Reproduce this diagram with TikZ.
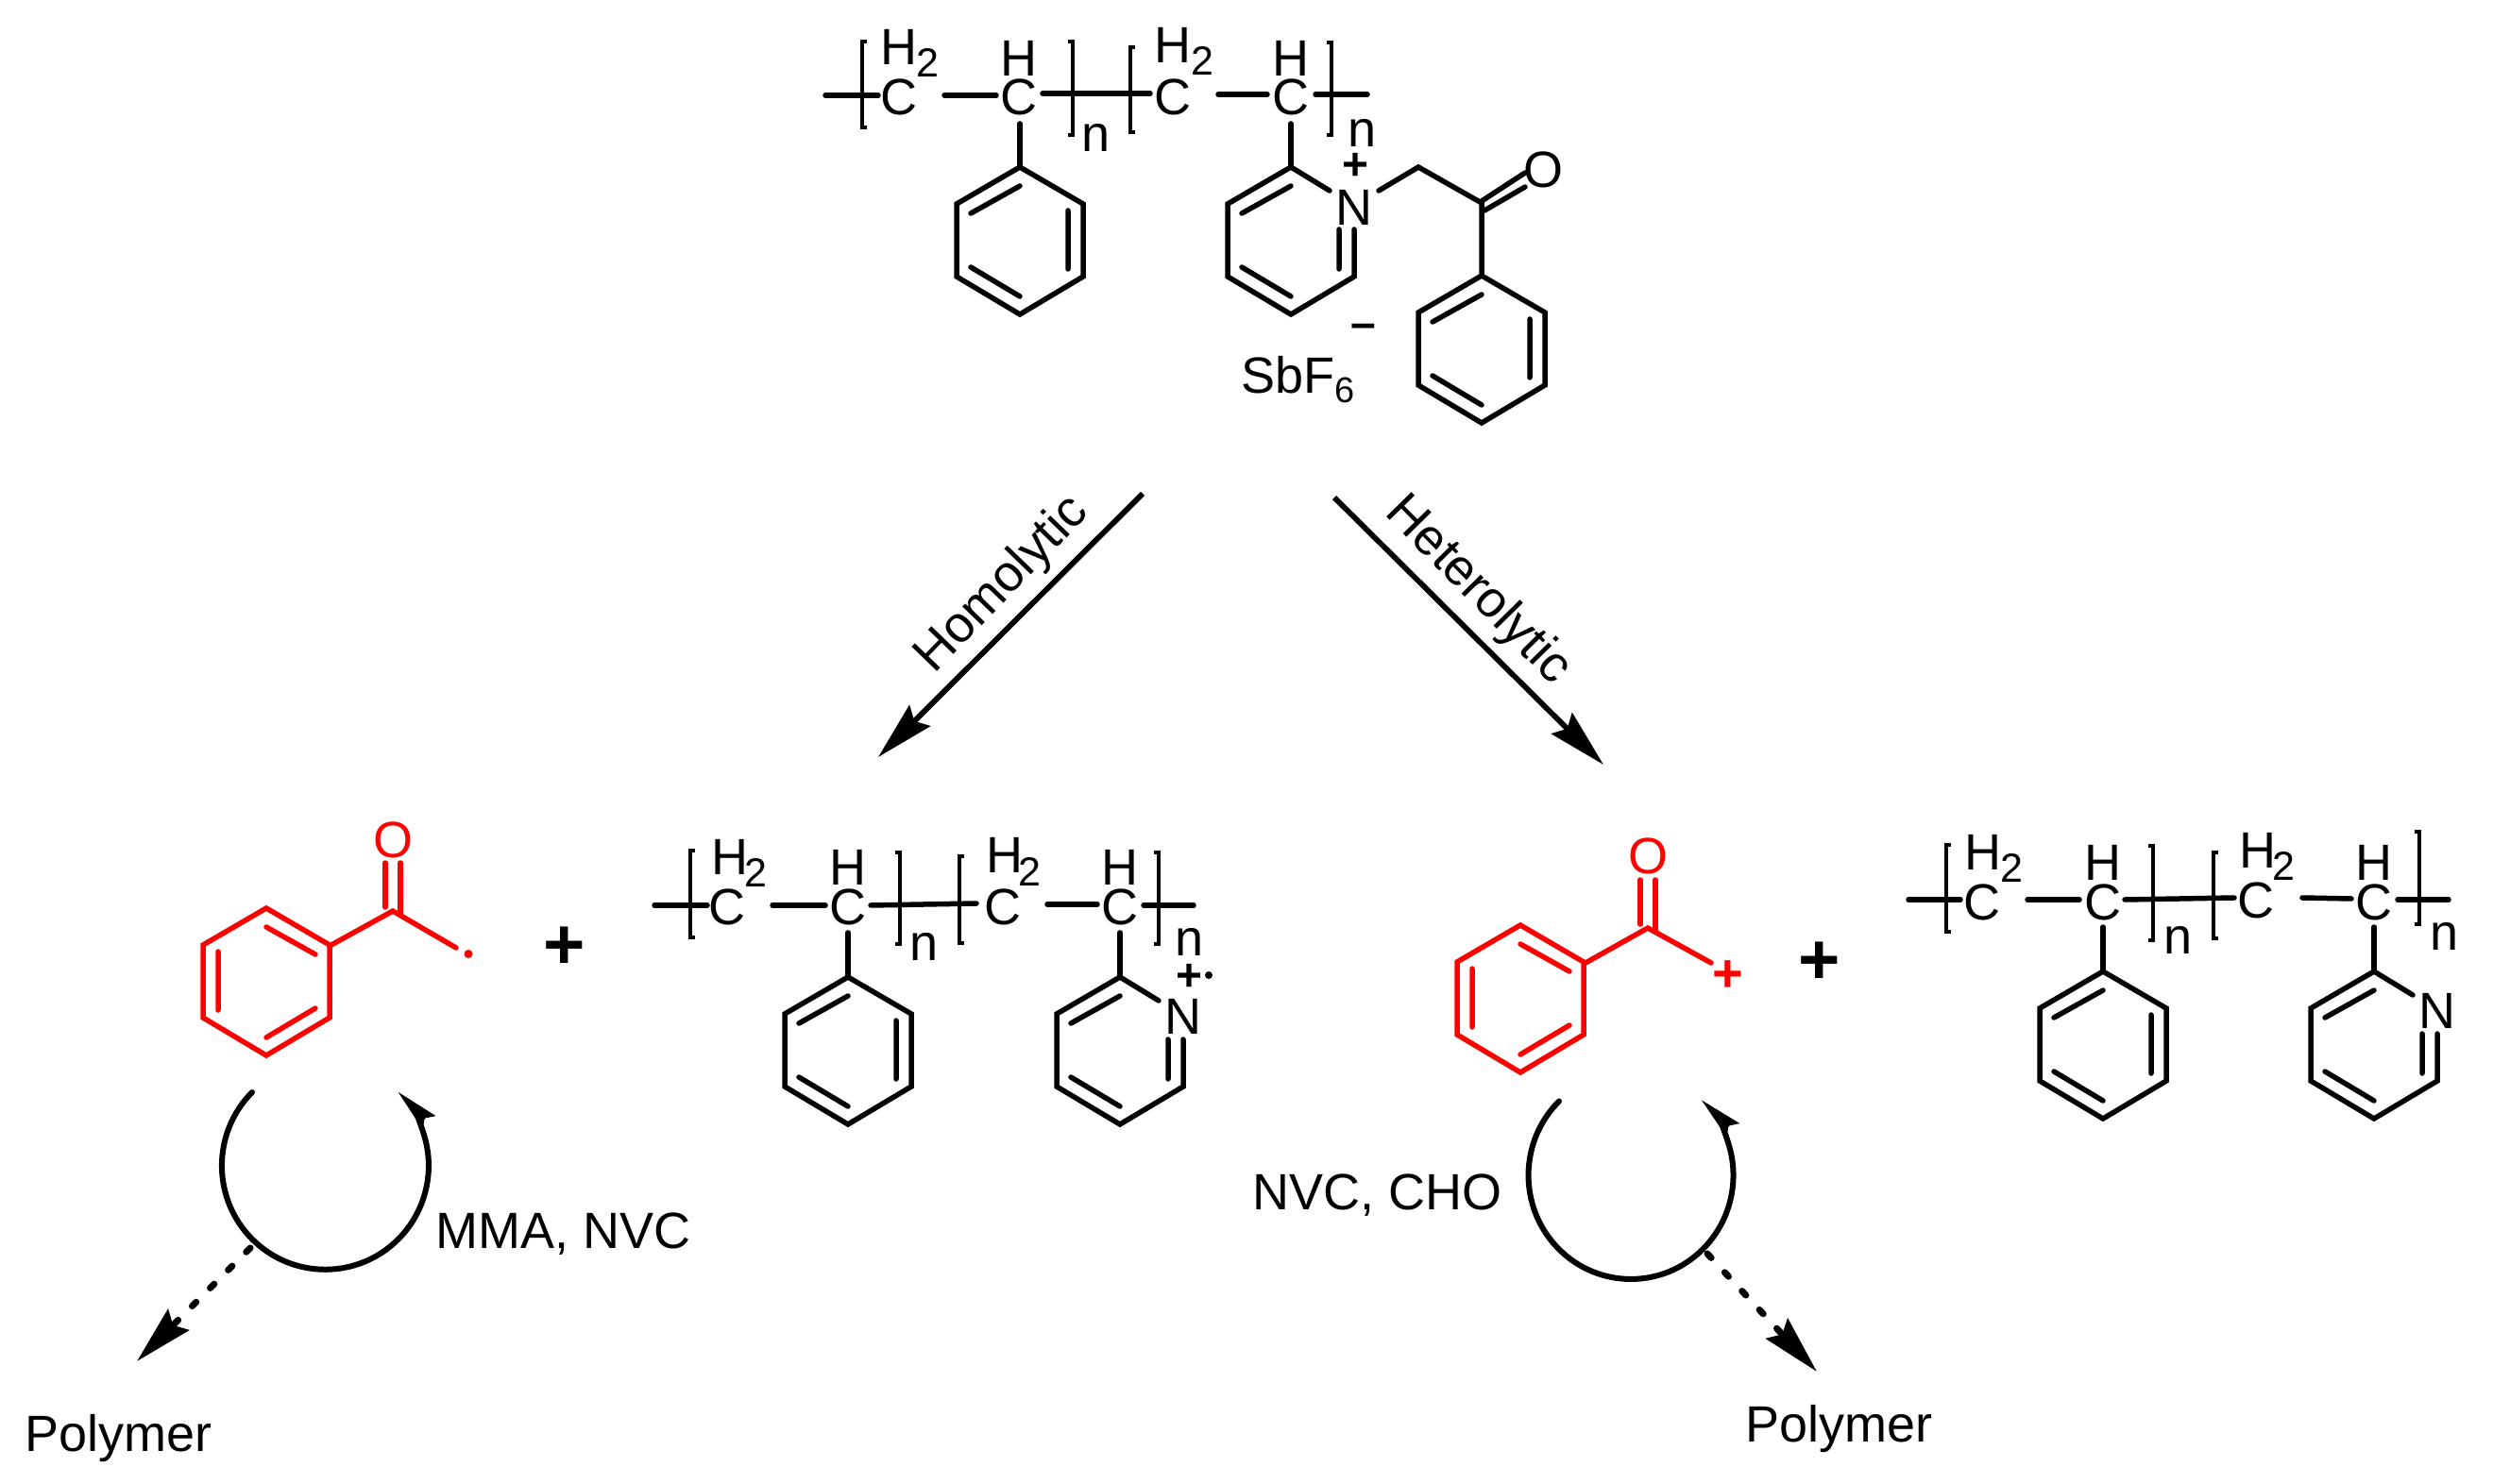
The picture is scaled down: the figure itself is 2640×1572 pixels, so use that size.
\documentclass[tikz,border=0pt]{standalone}
\usepackage{fontspec}
\setmainfont{Liberation Sans}
\usetikzlibrary{arrows.meta}
\newcommand\fs[1]{\fontsize{#1}{#1}\selectfont}
\tikzset{
  bond/.style={line width=2.75pt,line cap=round,line join=miter},
  blk/.style={bond,black},
  redbond/.style={bond,red},
  atom/.style={inner sep=0pt,font=\fs{27}},
  subs/.style={inner sep=0pt,font=\fs{21.5}},
  label/.style={inner sep=0pt,font=\fs{27}},
  bigplus/.style={inner sep=0pt,font=\fs{38}\bfseries},
  smallplus/.style={inner sep=0pt,font=\fs{24}\bfseries},
  main arrow/.style={line width=2.9pt,-{Stealth[length=31pt,width=15.5pt,inset=4pt]}},
  cycle arrow/.style={line width=3pt,line cap=round,-{Stealth[length=23pt,width=9.5pt,inset=3pt]}},
  dash arrow/.style={line width=3.5pt,line cap=round,dash pattern=on 3pt off 10.5pt,-{Stealth[length=31pt,width=15.5pt,inset=4pt]}},
}
% ring: x, top y, mirror (1 or -1), style
\newcommand\benzene[4]{%
  \begin{scope}[shift={(#1,#2)},xscale=#3,#4]
    \draw (0,0)--(-67,39)--(-67,116)--(0,156)--(67,116)--(67,39)--cycle;
    \draw (-52,49)--(0,20) (51,46)--(51,108) (-52,106)--(0,137);
  \end{scope}}
\newcommand\pyridine[3]{%
  \begin{scope}[shift={(#1,#2)},blk]
    \draw (41,25)--(0,0)--(-67,39)--(-67,116)--(0,156)--(67,116)--(67,#3);
    \draw (-52,49)--(0,20) (51,#3)--(51,108) (-52,106)--(0,137);
  \end{scope}}
% bracket: x, top, bottom, tick direction
\newcommand\brk[4]{\draw[blk,line width=1.9pt,line cap=butt] (#1+#4,#2)--(#1,#2)--(#1,#3)--(#1+#4,#3);}
\begin{document}
\begin{tikzpicture}[x=0.5pt,y=-0.5pt]
\useasboundingbox (0,0) rectangle (2640,1572);
% ===== top polymer =====
\draw[blk] (874,101)--(930,101);
\brk{913}{44}{135}{5}
\node[atom] (t1) at (952,103) {C};
\node[atom] (t2) at (952,50) {H};
\node[subs] (t3) at (982,66) {2};
\draw[blk] (1000,101)--(1055,101);
\node[atom] (t4) at (1079,103) {C};
\node[atom] (t5) at (1079,62) {H};
\draw[blk] (1104,99)--(1218,99);
\brk{1136}{44}{143}{-5}
\node[atom] (t6) at (1161,146) {n};
\brk{1197}{50}{140}{5}
\node[atom] (t7) at (1242,103) {C};
\node[atom] (t8) at (1242,48) {H};
\node[subs] (t9) at (1273,64) {2};
\draw[blk] (1290,100)--(1342,100);
\node[atom] (t10) at (1367,103) {C};
\node[atom] (t11) at (1367,62) {H};
\draw[blk] (1393,100)--(1448,100);
\brk{1410}{45}{143}{-5}
\node[atom] (t12) at (1442,141) {n};
\draw[blk] (1080,131)--(1080,177);
\benzene{1080}{177}{1}{blk}
\draw[blk] (1367,131)--(1367,177);
\pyridine{1367}{177}{66}
\node[atom] (t13) at (1434,220) {N};
\node[smallplus] (t14) at (1435,176) {+};
\draw[blk] (1460,202)--(1502,177)--(1569,215)--(1569,292);
\draw[blk] (1569,213)--(1615,183) (1572,223)--(1615,198);
\node[atom] (t15) at (1634,180) {O};
\benzene{1569}{292}{1}{blk}
\node[inner sep=0pt,font=\fs{24}\bfseries] (t16) at (1444,351) {–};
\node[label,anchor=base west] (t17) at (1314,417) {SbF};
\node[inner sep=0pt,font=\fs{19},anchor=base west] (t18) at (1413,427) {6};
% ===== main arrows =====
\coordinate (hoS) at (1210,523); \coordinate (hoE) at (930,802);
\coordinate (heS) at (1413,527); \coordinate (heE) at (1698,810);
\draw[main arrow] (hoS)--(hoE);
\draw[main arrow] (heS)--(heE);
\node[label,rotate=46] (homo) at (1062,620) {Homolytic};
\node[label,rotate=-45.5] (hetero) at (1565,626) {Heterolytic};
% ===== left radical =====
\benzene{282}{962}{-1}{redbond}
\draw[redbond] (349,1002)--(416,965)--(483,1004);
\draw[redbond] (408,914)--(408,961) (424,914)--(424,969);
\node[atom,red] (r1) at (416,890) {O};
\fill[red] (496,1010.5) circle[radius=4.5];
\node[bigplus] (p1) at (598,1004) {+};
% ===== polymer 2 =====
\draw[blk] (693,959)--(749,959);
\brk{731}{901}{993}{5}
\node[atom] (a1) at (770,961) {C};
\node[atom] (a2) at (773,908) {H};
\node[subs] (a3) at (800,924) {2};
\draw[blk] (818,959)--(874,959);
\node[atom] (a4) at (898,961) {C};
\node[atom] (a5) at (898,919) {H};
\draw[blk] (922,959)--(1034,957);
\brk{953}{903}{1000}{-5}
\node[atom] (a6) at (979,1003) {n};
\brk{1016}{907}{999}{5}
\node[atom] (a7) at (1062,961) {C};
\node[atom] (a8) at (1064,906) {H};
\node[subs] (a9) at (1090,923) {2};
\draw[blk] (1109,958)--(1162,958);
\node[atom] (a10) at (1186,961) {C};
\node[atom] (a11) at (1186,919) {H};
\draw[blk] (1211,959)--(1264,959);
\brk{1227}{903}{1000}{-5}
\node[atom] (a12) at (1260,998) {n};
\draw[blk] (898,988)--(898,1035);
\benzene{898}{1035}{1}{blk}
\draw[blk] (1186,988)--(1186,1035);
\pyridine{1186}{1035}{66}
\node[atom] (a13) at (1253,1077) {N};
\node[smallplus] (a14) at (1260,1035) {+};
\fill (1280,1033) circle[radius=4];
% ===== left cycle =====
\draw[cycle arrow] (267,1157) arc[start angle=225,end angle=-45.5,x radius=109.5,y radius=110];
\coordinate (dlS) at (265,1322); \coordinate (dlE) at (145,1442);
\draw[dash arrow] (dlS)--(dlE);
\node[label,anchor=base west] (mma) at (461,1322) {MMA, NVC};
\node[label,anchor=base west] (pl) at (26,1537) {Polymer};
% ===== right cation =====
\benzene{1610}{980}{-1}{redbond}
\draw[redbond] (1679,1020)--(1745,983)--(1812,1020);
\draw[redbond] (1737,932)--(1737,979) (1753,932)--(1753,987);
\node[atom,red] (r2) at (1745,907) {O};
\node[inner sep=0pt,font=\fs{28}\bfseries,red] (r3) at (1830,1034) {+};
\node[bigplus] (p2) at (1927,1020) {+};
% ===== polymer 3 =====
\draw[blk] (2021,953)--(2076,953);
\brk{2061}{895}{987}{5}
\node[atom] (b1) at (2099,956) {C};
\node[atom] (b2) at (2100,903) {H};
\node[subs] (b3) at (2130,919) {2};
\draw[blk] (2147,953)--(2202,953);
\node[atom] (b4) at (2227,956) {C};
\node[atom] (b5) at (2227,914) {H};
\draw[blk] (2250,953)--(2366,951);
\brk{2280}{896}{996}{-5}
\node[atom] (b6) at (2306,996) {n};
\brk{2344}{903}{994}{5}
\node[atom] (b7) at (2389,954) {C};
\node[atom] (b8) at (2391,901) {H};
\node[subs] (b9) at (2418,917) {2};
\draw[blk] (2438,951)--(2490,952);
\node[atom] (b10) at (2514,956) {C};
\node[atom] (b11) at (2514,914) {H};
\draw[blk] (2539,953)--(2593,953);
\brk{2562}{881}{979}{-5}
\node[atom] (b12) at (2588,992) {n};
\draw[blk] (2227,982)--(2227,1029);
\benzene{2227}{1029}{1}{blk}
\draw[blk] (2514,982)--(2514,1029);
\pyridine{2514}{1029}{66}
\node[atom] (b13) at (2581,1071) {N};
% ===== right cycle =====
\draw[cycle arrow] (1651,1166.5) arc[start angle=225.5,end angle=-46.7,x radius=108.5,y radius=110];
\coordinate (drS) at (1808,1328); \coordinate (drE) at (1924,1453);
\draw[dash arrow] (drS)--(drE);
\node[label,anchor=base west] (nvc) at (1326,1281) {NVC, CHO};
\node[label,anchor=base west] (pr) at (1848,1527) {Polymer};
\end{tikzpicture}
\end{document}
